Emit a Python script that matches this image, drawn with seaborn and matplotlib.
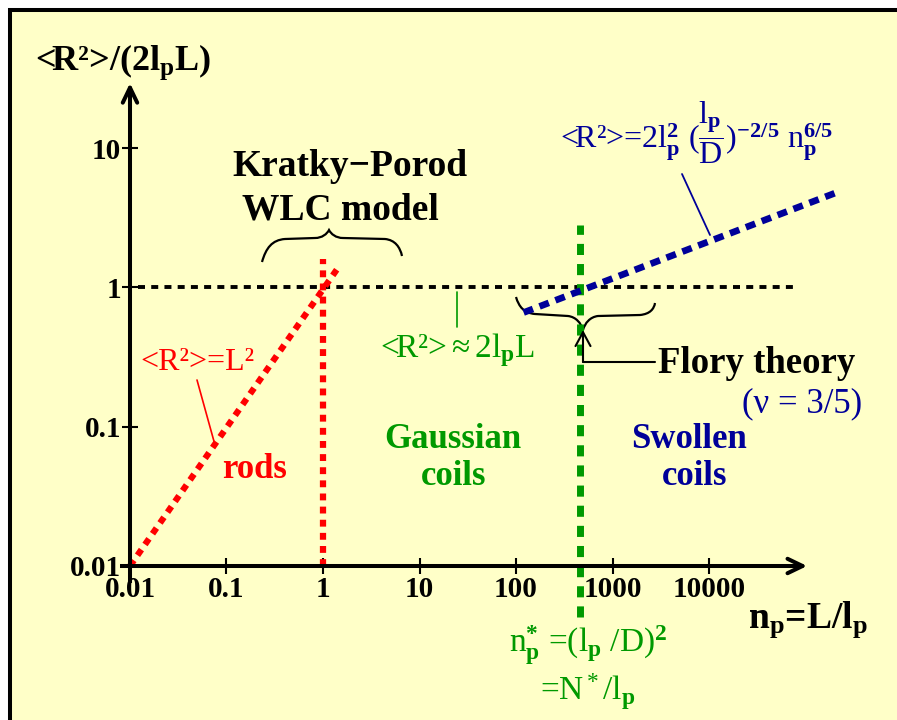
import matplotlib
matplotlib.use('Agg')
import numpy as np
import pandas as pd
import seaborn as sns
import matplotlib.pyplot as plt
from matplotlib.transforms import Affine2D
from matplotlib.path import Path
from matplotlib.patches import PathPatch, Rectangle
from matplotlib.lines import Line2D
from matplotlib.ticker import NullLocator, FixedLocator, FixedFormatter

# ---------------- data ----------------
x_ticks = [0.01, 0.1, 1, 10, 100, 1000, 10000]
x_tick_labels = ['0.01', '0.1', '1', '10', '100', '1000', '10000']
y_ticks = [0.01, 0.1, 1, 10]
y_tick_labels = ['0.01', '0.1', '1', '10']

rod_x = [0.01, 1.45]          # <R^2> = L^2 regime
rod_y = [0.01, 1.4]
rod_limit_x = [1.0, 1.0]      # n_p = 1
rod_limit_y = [0.01, 1.6]
gauss_x = [0.0121, 82000]     # Gaussian plateau
gauss_y = [1.0, 1.0]
cross_x = [460, 460]          # n_p*
cross_y = [0.0043, 2.8]
flory_x = [120, 2.1e5]        # swollen coils
flory_y = [0.66, 4.8]

# ---------------- style ----------------
YELLOW = '#FFFFC8'
RED = '#FF0000'
GREEN = '#009900'
NAVY = '#000099'

W, H = 897, 720
sns.set_style('white')
plt.rcParams['font.family'] = ['Liberation Serif', 'DejaVu Serif']
plt.rcParams['mathtext.fontset'] = 'custom'
plt.rcParams['mathtext.rm'] = 'Liberation Serif'
plt.rcParams['mathtext.it'] = 'Liberation Serif:italic'
plt.rcParams['mathtext.bf'] = 'Liberation Serif:bold'

fig = plt.figure(figsize=(W / 100, H / 100), dpi=100, facecolor='white')
px = Affine2D().scale(1 / W, -1 / H).translate(0, 1) + fig.transFigure

fig.add_artist(Rectangle((9.5, 9.5), W + 20, H + 20, transform=px,
                         facecolor=YELLOW, edgecolor='black', lw=2.9, zorder=-5))

ax = fig.add_axes([0, 0, 1, 1])
ax.set_facecolor('none')
ax.set_xscale('log')
ax.set_yscale('log')
ax.set_xlim(10 ** -3.347, 10 ** 5.948)
ax.set_ylim(10 ** -3.1055, 10 ** 2.063)

# axes through (0.01, 0.01)
for s in ['top', 'right']:
    ax.spines[s].set_visible(False)
ax.spines['left'].set_position(('data', 0.01))
ax.spines['bottom'].set_position(('data', 0.01))
ax.spines['left'].set_bounds(0.00755, 27)
ax.spines['bottom'].set_bounds(0.00787, 9.5e4)
for s in ['left', 'bottom']:
    ax.spines[s].set_linewidth(2.9)
    ax.spines[s].set_color('black')
    ax.spines[s].set_capstyle('butt')

ax.xaxis.set_major_locator(FixedLocator(x_ticks))
ax.xaxis.set_major_formatter(FixedFormatter(x_tick_labels))
ax.yaxis.set_major_locator(FixedLocator(y_ticks))
ax.yaxis.set_major_formatter(FixedFormatter(y_tick_labels))
ax.xaxis.set_minor_locator(NullLocator())
ax.yaxis.set_minor_locator(NullLocator())
ax.tick_params(axis='both', direction='inout', length=12, width=1.5,
               labelsize=21, colors='black')
ax.tick_params(axis='x', pad=1.5, bottom=True)
ax.tick_params(axis='y', pad=0.5, left=True)
for lbl in ax.get_xticklabels() + ax.get_yticklabels():
    lbl.set_fontweight('bold')

# arrow heads of the axes
ap = dict(arrowstyle='->,head_length=0.54,head_width=0.26', lw=2.9,
          color='black', shrinkA=0, shrinkB=0, mutation_scale=20)
ax.annotate('', xy=(0.01, 29.3), xytext=(0.01, 20), arrowprops=ap)
ax.annotate('', xy=(1.04e5, 0.01), xytext=(7e4, 0.01), arrowprops=ap)

# ---------------- data lines ----------------
sns.lineplot(x=gauss_x, y=gauss_y, ax=ax, color='black', lw=2.8,
             linestyle=(0, (1.8, 1.6)), estimator=None, sort=False,
             dash_capstyle='butt')
sns.lineplot(x=rod_x, y=rod_y, ax=ax, color=RED, lw=4.5,
             linestyle=(0, (1.1, 1.0)), estimator=None, sort=False,
             dash_capstyle='butt')
sns.lineplot(x=rod_limit_x, y=rod_limit_y, ax=ax, color=RED, lw=4.5,
             linestyle=(0, (1.1, 1.0)), estimator=None, sort=False,
             dash_capstyle='butt')
sns.lineplot(x=cross_x, y=cross_y, ax=ax, color=GREEN, lw=5,
             linestyle=(0, (1.6, 1.3)), estimator=None, sort=False,
             dash_capstyle='butt')
sns.lineplot(x=flory_x, y=flory_y, ax=ax, color=NAVY, lw=4.8,
             linestyle=(0, (1.5, 1.05)), estimator=None, sort=False,
             dash_capstyle='butt')

# ---------------- braces and leader lines ----------------
def brace(verts, codes):
    ax.add_patch(PathPatch(Path(verts, codes), transform=px, fill=False,
                           lw=1.6, edgecolor='black', clip_on=False))

M, C, L = Path.MOVETO, Path.CURVE4, Path.LINETO
brace([(262, 262), (266, 248), (272, 240), (285, 239), (315, 238),
       (322, 238), (327, 234), (329, 230),
       (331, 234), (336, 238), (343, 238), (385, 239),
       (395, 240), (400, 247), (402, 256)],
      [M, C, C, C, L, C, C, C, C, C, C, L, C, C, C])
brace([(516, 297), (519, 307), (524, 313), (535, 314), (568, 316),
       (576, 317), (581, 323), (583, 330),
       (585, 323), (590, 317), (598, 316), (640, 315),
       (650, 314), (654, 309), (655, 303)],
      [M, C, C, C, L, C, C, C, C, C, C, L, C, C, C])

def seg(x0, y0, x1, y1, color, lw):
    ax.add_line(Line2D([x0, x1], [y0, y1], transform=px, color=color,
                       lw=lw, clip_on=False))

seg(197, 380, 215, 445, RED, 1.2)
seg(457, 292, 457, 327, GREEN, 1.2)
seg(682, 174, 710, 235, NAVY, 1.3)
seg(655, 362, 583, 362, 'black', 1.5)
ax.annotate('', xy=(583, 330), xytext=(583, 362), xycoords=px, textcoords=px,
            arrowprops=dict(arrowstyle='->,head_length=0.5,head_width=0.27',
                            lw=1.5, color='black', shrinkA=0, shrinkB=0,
                            mutation_scale=20))

# ---------------- texts ----------------
def txt(x, y, s, size, color='black', bold=False, ha='center'):
    ax.text(x, y, s, transform=px, ha=ha, va='baseline', fontsize=size,
            color=color, fontweight='bold' if bold else 'normal')

txt(123, 70, r'<R²>/(2l$_\mathbf{p}$L)', 26, bold=True)
txt(350, 176, 'Kratky\u2212Porod', 27, bold=True)
txt(340, 220, 'WLC model', 27, bold=True)
txt(697, 148, r'<R²>=2l$_\mathbf{p}^\mathbf{2}$ $(\dfrac{\mathrm{l}_\mathbf{p}}{\mathrm{D}})^{\mathbf{-2/5}}$ n$_\mathbf{p}^\mathbf{6/5}$', 23, color=NAVY)
txt(197, 370, '<R²>=L²', 23, color=RED)
txt(255, 478, 'rods', 25, color=RED, bold=True)
txt(457, 357, r'<R²>$\approx$2l$_\mathbf{p}$L', 24, color=GREEN)
txt(453, 448, 'Gaussian', 25, color=GREEN, bold=True)
txt(454, 485, 'coils', 25, color=GREEN, bold=True)
txt(689, 448, 'Swollen', 25, color=NAVY, bold=True)
txt(695, 485, 'coils', 25, color=NAVY, bold=True)
txt(658, 373, 'Flory theory', 26.5, bold=True, ha='left')
txt(802, 412, '(\u03bd = 3/5)', 25, color=NAVY)
txt(808, 628, r'n$_\mathbf{p}$=L/l$_\mathbf{p}$', 27, bold=True)
txt(588, 652, r'n$_\mathbf{p}^\mathbf{*}$ =(l$_\mathbf{p}$ /D)$^\mathbf{2}$', 24, color=GREEN)
txt(588, 700, r'=N$^*$/l$_\mathbf{p}$', 24, color=GREEN)

fig.savefig('out.png', dpi=100, facecolor='white')
